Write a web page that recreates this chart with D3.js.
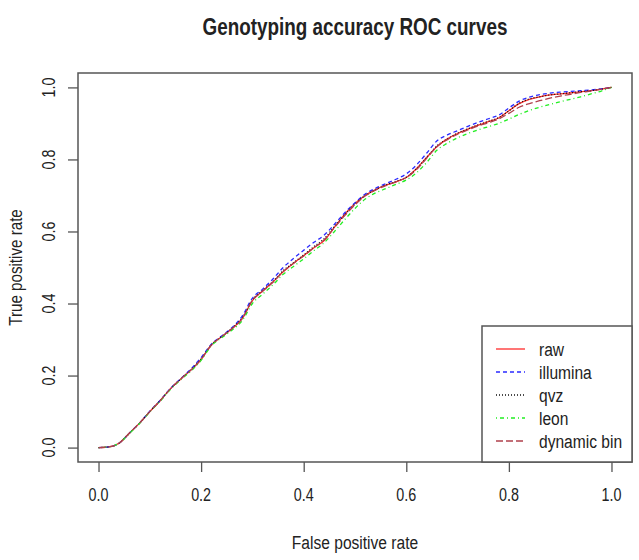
<!DOCTYPE html>
<html>
<head>
<meta charset="utf-8">
<script src="https://cdn.jsdelivr.net/npm/d3@7"></script>
<style>
  body { margin: 0; background: #fff; }
  text { font-family: "Liberation Sans", Arial, sans-serif; fill: #222; }
</style>
</head>
<body>
<script>
const title = 'Genotyping accuracy ROC curves'
const xTitle = 'False positive rate'
const yTitle = 'True positive rate'

const tickValues = [0, 0.2, 0.4, 0.6, 0.8, 1.0]

const fpr = [0, 0.02, 0.04, 0.06, 0.08, 0.10, 0.12, 0.14, 0.16, 0.18, 0.20, 0.22, 0.24, 0.26, 0.28, 0.30,
  0.32, 0.34, 0.36, 0.38, 0.40, 0.42, 0.44, 0.46, 0.48, 0.50, 0.52, 0.54, 0.56, 0.58, 0.60, 0.62, 0.64,
  0.66, 0.68, 0.70, 0.72, 0.74, 0.76, 0.78, 0.80, 0.82, 0.84, 0.86, 0.88, 0.90, 0.92, 0.94, 0.96, 0.98, 1.0]

const rawTpr = [0, 0.002, 0.012, 0.040, 0.068, 0.100, 0.130, 0.163, 0.190, 0.215, 0.245, 0.285, 0.308, 0.330, 0.358, 0.408,
  0.435, 0.460, 0.488, 0.512, 0.533, 0.555, 0.575, 0.612, 0.648, 0.678, 0.700, 0.716, 0.729, 0.738, 0.750, 0.775, 0.806,
  0.836, 0.857, 0.872, 0.884, 0.895, 0.905, 0.915, 0.935, 0.955, 0.967, 0.974, 0.979, 0.982, 0.985, 0.988, 0.991, 0.995, 1.0]

const illuminaTpr = [0, 0.002, 0.012, 0.040, 0.068, 0.101, 0.131, 0.164, 0.191, 0.218, 0.250, 0.287, 0.310, 0.333, 0.365, 0.415,
  0.440, 0.468, 0.500, 0.525, 0.548, 0.570, 0.590, 0.620, 0.652, 0.680, 0.704, 0.720, 0.733, 0.745, 0.760, 0.785, 0.818,
  0.852, 0.868, 0.880, 0.892, 0.903, 0.913, 0.923, 0.943, 0.962, 0.973, 0.980, 0.984, 0.987, 0.989, 0.991, 0.993, 0.996, 1.0]

const qvzTpr = [0, 0.002, 0.012, 0.040, 0.068, 0.100, 0.130, 0.163, 0.190, 0.216, 0.246, 0.285, 0.308, 0.331, 0.360, 0.410,
  0.436, 0.461, 0.491, 0.513, 0.535, 0.558, 0.580, 0.614, 0.646, 0.676, 0.700, 0.716, 0.729, 0.739, 0.751, 0.774, 0.806,
  0.838, 0.857, 0.873, 0.885, 0.896, 0.906, 0.916, 0.935, 0.956, 0.968, 0.974, 0.979, 0.982, 0.985, 0.988, 0.991, 0.995, 1.0]

const leonTpr = [0, 0.002, 0.012, 0.039, 0.067, 0.099, 0.129, 0.161, 0.188, 0.212, 0.242, 0.283, 0.305, 0.326, 0.352, 0.400,
  0.426, 0.452, 0.481, 0.503, 0.524, 0.547, 0.569, 0.600, 0.633, 0.664, 0.690, 0.707, 0.719, 0.731, 0.743, 0.763, 0.792,
  0.826, 0.845, 0.860, 0.872, 0.882, 0.891, 0.900, 0.912, 0.925, 0.936, 0.945, 0.953, 0.960, 0.967, 0.974, 0.982, 0.990, 1.0]

const dynBinTpr = [0, 0.002, 0.012, 0.040, 0.068, 0.100, 0.130, 0.163, 0.190, 0.215, 0.245, 0.285, 0.308, 0.330, 0.358, 0.409,
  0.434, 0.459, 0.489, 0.511, 0.532, 0.555, 0.577, 0.611, 0.644, 0.674, 0.699, 0.715, 0.727, 0.738, 0.750, 0.772, 0.804,
  0.836, 0.855, 0.870, 0.882, 0.893, 0.902, 0.912, 0.928, 0.945, 0.955, 0.963, 0.970, 0.976, 0.981, 0.986, 0.990, 0.995, 1.0]

const seriesNames = ['raw', 'illumina', 'qvz', 'leon', 'dynamic bin']
const seriesValues = [rawTpr, illuminaTpr, qvzTpr, leonTpr, dynBinTpr]
const seriesColors = ['#ff2a2a', '#2a2aff', '#111111', '#22ee22', '#b0404c']
const seriesDash = ['none', '4,3', '1,2', '1,3,4,3', '7,3']

const width = 639
const height = 560
const margin = { top: 73, left: 78, right: 7, bottom: 98 }
const innerWidth = width - margin.left - margin.right
const innerHeight = height - margin.top - margin.bottom
// text in the reference is a condensed Helvetica, squeeze it horizontally
const narrow = 'scale(0.82, 1)'
const fmt = d3.format('.1f')

const svg = d3.select('body').append('svg')
  .attr('width', width)
  .attr('height', height)

// title
svg.append('text')
  .attr('transform', `translate(${margin.left + innerWidth / 2}, 35) ${narrow}`)
  .attr('text-anchor', 'middle')
  .attr('font-size', 23)
  .attr('font-weight', 'bold')
  .text(title)

const main = svg.append('g')
  .attr('transform', `translate(${margin.left}, ${margin.top})`)

// R style 4% padding on both scales
const xScale = d3.scaleLinear().domain([-0.04, 1.04]).range([0, innerWidth])
const yScale = d3.scaleLinear().domain([-0.04, 1.04]).range([innerHeight, 0])

//axes (tick marks from d3, labels placed by hand below)
const xAxis = d3.axisBottom(xScale)
  .tickValues(tickValues)
  .tickSize(10)
  .tickFormat('')

const yAxis = d3.axisLeft(yScale)
  .tickValues(tickValues)
  .tickSize(10)
  .tickFormat('')

const gx = main.append('g')
  .attr('transform', `translate(0, ${innerHeight})`)
  .call(xAxis)
gx.select('.domain').remove()
gx.selectAll('text').remove()
gx.selectAll('line').attr('stroke', '#555').attr('stroke-width', 1.3)

const gy = main.append('g').call(yAxis)
gy.select('.domain').remove()
gy.selectAll('text').remove()
gy.selectAll('line').attr('stroke', '#555').attr('stroke-width', 1.3)

main.append('g')
  .selectAll('text')
  .data(tickValues)
  .join('text')
  .attr('transform', d => `translate(${xScale(d)}, ${innerHeight + 33}) ${narrow}`)
  .attr('dy', '0.35em')
  .attr('text-anchor', 'middle')
  .attr('font-size', 17.5)
  .text(fmt)

main.append('g')
  .selectAll('text')
  .data(tickValues)
  .join('text')
  .attr('transform', d => `translate(-29, ${yScale(d)}) rotate(-90) ${narrow}`)
  .attr('dy', '0.35em')
  .attr('text-anchor', 'middle')
  .attr('font-size', 17.5)
  .text(fmt)

// plot box
main.append('rect')
  .attr('width', innerWidth)
  .attr('height', innerHeight)
  .attr('fill', 'none')
  .attr('stroke', '#555')
  .attr('stroke-width', 1.5)

// axis titles
svg.append('text')
  .attr('transform', `translate(${margin.left + innerWidth / 2}, 542) ${narrow}`)
  .attr('dy', '0.35em')
  .attr('text-anchor', 'middle')
  .attr('font-size', 19)
  .text(xTitle)

svg.append('text')
  .attr('transform', `translate(16, ${margin.top + innerHeight / 2}) rotate(-90) ${narrow}`)
  .attr('dy', '0.35em')
  .attr('text-anchor', 'middle')
  .attr('font-size', 18.5)
  .text(yTitle)

// curves
const line = d3.line()
  .x((d, i) => xScale(fpr[i]))
  .y(d => yScale(d))
  .curve(d3.curveMonotoneX)

main.append('g')
  .selectAll('path')
  .data(seriesValues)
  .join('path')
  .attr('d', d => line(d))
  .attr('fill', 'none')
  .attr('stroke', (d, i) => seriesColors[i])
  .attr('stroke-width', 1.3)
  .attr('stroke-dasharray', (d, i) => seriesDash[i])

// legend
const legend = svg.append('g')
  .attr('transform', 'translate(482, 326)')

legend.append('rect')
  .attr('width', 150)
  .attr('height', 136)
  .attr('fill', '#fff')
  .attr('stroke', '#555')
  .attr('stroke-width', 1.5)

const items = legend.selectAll('.item')
  .data(seriesNames)
  .join('g')
  .attr('class', 'item')
  .attr('transform', (d, i) => `translate(0, ${23 + i * 23})`)

items.append('line')
  .attr('x1', 14)
  .attr('x2', 43)
  .attr('stroke', (d, i) => seriesColors[i])
  .attr('stroke-width', 1.3)
  .attr('stroke-dasharray', (d, i) => seriesDash[i])

items.append('text')
  .attr('transform', `translate(57, 0) ${narrow}`)
  .attr('dy', '0.35em')
  .attr('font-size', 19)
  .text(d => d)
</script>
</body>
</html>
